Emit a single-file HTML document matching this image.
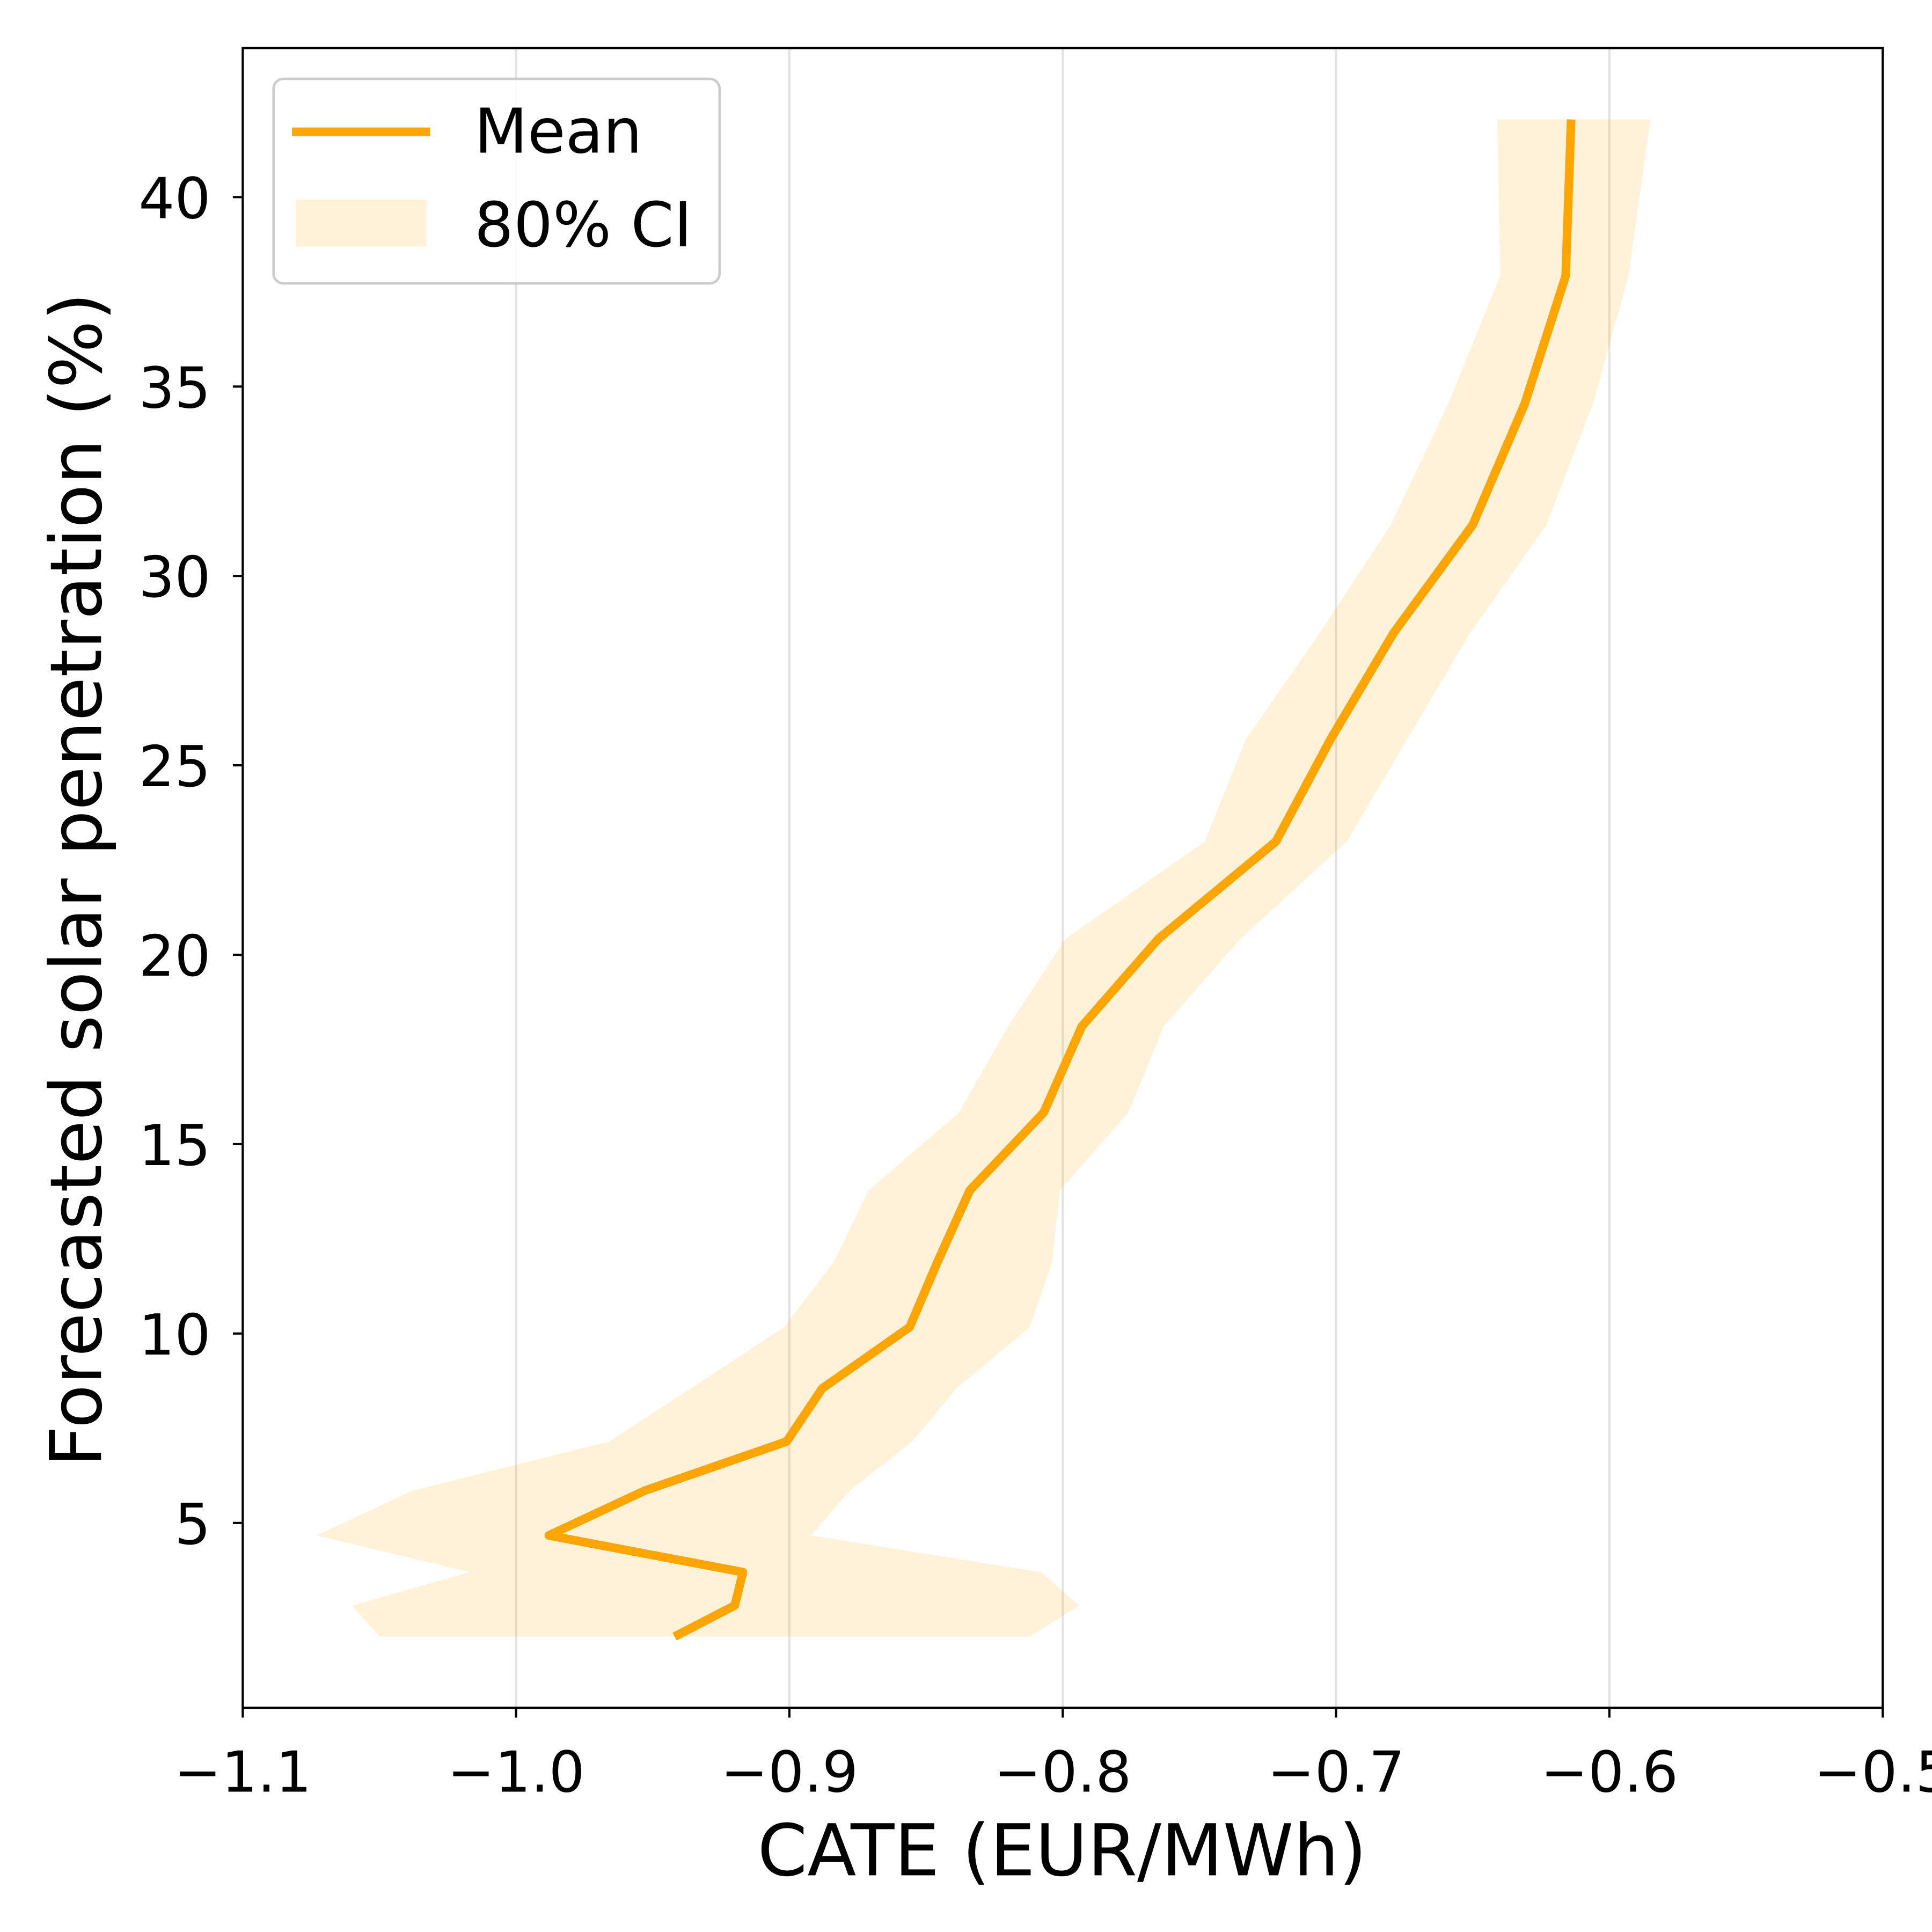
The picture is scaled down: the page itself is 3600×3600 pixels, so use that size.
<!DOCTYPE html>
<html><head><meta charset="utf-8">
<style>html,body{margin:0;padding:0;background:#fff}svg{display:block}</style>
</head><body>
<svg id="chart" width="3600" height="3600" viewBox="0 0 1568 1568" xmlns="http://www.w3.org/2000/svg" font-family="'DejaVu Sans','Liberation Sans',sans-serif">
<rect width="1568" height="1568" fill="#fff"/>
<g id="grid"></g>
<path id="ci" fill="#ffa500" fill-opacity="0.15" stroke="none"/>
<path id="mean" fill="none" stroke="#ffa500" stroke-width="7" stroke-linejoin="round"/>
<rect x="197" y="39" width="1331" height="1347" fill="none" stroke="#000" stroke-width="1.8"/>
<g id="xticks"></g>
<g id="yticks"></g>
<text x="862" y="1522" font-size="58" text-anchor="middle">CATE (EUR/MWh)</text>
<text transform="translate(82,714) rotate(-90)" font-size="58" text-anchor="middle">Forecasted solar penetration (%)</text>
<g>
<rect x="222" y="64" width="362" height="166" rx="8" fill="#fff" fill-opacity="0.8" stroke="#ccc" stroke-width="2"/>
<line x1="237" y1="107" x2="349" y2="107" stroke="#ffa500" stroke-width="7"/>
<text x="385" y="124" font-size="50">Mean</text>
<rect x="240" y="162" width="106" height="38" fill="#ffa500" fill-opacity="0.15"/>
<text x="385" y="200" font-size="50">80% CI</text>
</g>
</svg>
<script>
const penetration=[2.0,2.82,3.70,4.67,5.85,7.15,8.55,10.17,11.86,13.78,15.83,18.11,20.42,22.99,25.69,28.49,31.35,34.54,37.92,42.05];
const meanCate=[-0.942,-0.920,-0.917,-0.988,-0.953,-0.901,-0.888,-0.856,-0.846,-0.834,-0.807,-0.793,-0.765,-0.722,-0.702,-0.679,-0.650,-0.631,-0.616,-0.614];
const ciLower=[-1.050,-1.060,-1.017,-1.073,-1.038,-0.966,-0.936,-0.902,-0.884,-0.871,-0.838,-0.820,-0.799,-0.748,-0.733,-0.706,-0.680,-0.659,-0.640,-0.641];
const ciUpper=[-0.812,-0.794,-0.808,-0.892,-0.878,-0.855,-0.839,-0.812,-0.804,-0.801,-0.776,-0.763,-0.735,-0.696,-0.674,-0.651,-0.623,-0.606,-0.593,-0.585];
const xTicks=[-1.1,-1.0,-0.9,-0.8,-0.7,-0.6,-0.5];
const xTickLabels=["\u22121.1","\u22121.0","\u22120.9","\u22120.8","\u22120.7","\u22120.6","\u22120.5"];
const yTicks=[5,10,15,20,25,30,35,40];

const X0=197,X1=1528,Y0=1386,Y1=39;
function sx(v){return X0+(v-(-1.1))/0.6*(X1-X0);}
function sy(v){return 1236-(v-5)*(1236-160)/35;}
const NS="http://www.w3.org/2000/svg";
const grid=document.getElementById('grid'),xg=document.getElementById('xticks'),yg=document.getElementById('yticks');
xTicks.forEach((t,i)=>{
  const x=sx(t);
  if(i>0&&i<xTicks.length-1){const g=document.createElementNS(NS,'line');
    
    
    g.setAttribute('x1',x);g.setAttribute('x2',x);g.setAttribute('y1',Y1);g.setAttribute('y2',Y0);
    g.setAttribute('stroke','#b0b0b0');g.setAttribute('stroke-opacity','0.35');g.setAttribute('stroke-width','1.8');grid.appendChild(g);}
  const l=document.createElementNS(NS,'line');
  
  
  l.setAttribute('x1',x);l.setAttribute('x2',x);l.setAttribute('y1',Y0);l.setAttribute('y2',Y0+8);l.setAttribute('stroke','#000');l.setAttribute('stroke-width','1.8');xg.appendChild(l);
  const tx=document.createElementNS(NS,'text');
  
  
  tx.setAttribute('x',x);tx.setAttribute('y',1454);tx.setAttribute('font-size','46');tx.setAttribute('text-anchor','middle');tx.textContent=xTickLabels[i];xg.appendChild(tx);
});
yTicks.forEach(t=>{
  const y=sy(t);
  const l=document.createElementNS(NS,'line');
  
  
  l.setAttribute('x1',X0-8);l.setAttribute('x2',X0);l.setAttribute('y1',y);l.setAttribute('y2',y);l.setAttribute('stroke','#000');l.setAttribute('stroke-width','1.8');yg.appendChild(l);
  const tx=document.createElementNS(NS,'text');
  
  
  tx.setAttribute('x',X0-26);tx.setAttribute('y',y+17);tx.setAttribute('font-size','46');tx.setAttribute('text-anchor','end');tx.textContent=t;yg.appendChild(tx);
});
let d='';
penetration.forEach((p,i)=>{d+=(i?'L':'M')+sx(ciLower[i])+','+sy(p);});
for(let i=penetration.length-1;i>=0;i--){d+='L'+sx(ciUpper[i])+','+sy(penetration[i]);}
document.getElementById('ci').setAttribute('d',d+'Z');
let m='';
penetration.forEach((p,i)=>{m+=(i?'L':'M')+sx(meanCate[i])+','+sy(p);});
document.getElementById('mean').setAttribute('d',m);
</script>
</body></html>
